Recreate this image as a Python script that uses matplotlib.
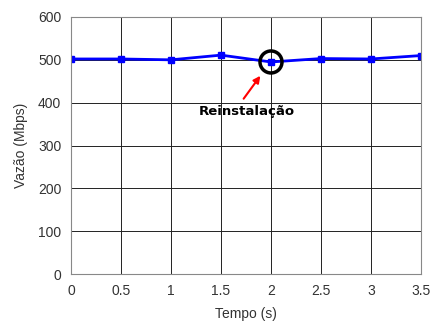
import matplotlib.pyplot as plt
from matplotlib.patches import Ellipse

plt.rcParams['font.family'] = ['Liberation Sans', 'DejaVu Sans']

tempo = [0, 0.5, 1, 1.5, 2, 2.5, 3, 3.5]
vazao = [502, 502, 500, 511, 495, 503, 502, 510]

fig = plt.figure(figsize=(4.34, 3.25), dpi=100)
ax = fig.add_axes([71 / 434, 51 / 325, 350 / 434, 257 / 325])

ax.plot(tempo, vazao, color='#0000ff', linewidth=2, marker='s', markersize=5)

ax.set_xlim(0, 3.5)
ax.set_ylim(0, 600)
ax.set_xticks(tempo)
ax.set_xticklabels(['0', '0.5', '1', '1.5', '2', '2.5', '3', '3.5'])
ax.set_yticks([0, 100, 200, 300, 400, 500, 600])
ax.grid(True, color='#222222', linewidth=0.7)
ax.tick_params(length=0, labelsize=10, colors='#333333', pad=7)
for s in ax.spines.values():
    s.set_color('#888888')

# circle around the dip
ax.add_patch(Ellipse((2, 495), width=22 / 350 * 3.5, height=22 / 257 * 600,
                     fill=False, edgecolor='black', linewidth=2.5, zorder=5))
ax.annotate('', xy=(1.91, 468), xytext=(1.71, 404),
            arrowprops=dict(arrowstyle='-|>', color='red', lw=1.5, mutation_scale=10))
ax.text(1.76, 379, 'Reinstalação', ha='center', va='center', fontsize=9.5,
        fontweight='bold', family=['DejaVu Sans'])

ax.set_xlabel('Tempo (s)', fontsize=10, color='#333333', labelpad=7)
ax.set_ylabel('Vazão (Mbps)', fontsize=10, color='#333333', labelpad=7)

fig.savefig('out.png', dpi=100)
